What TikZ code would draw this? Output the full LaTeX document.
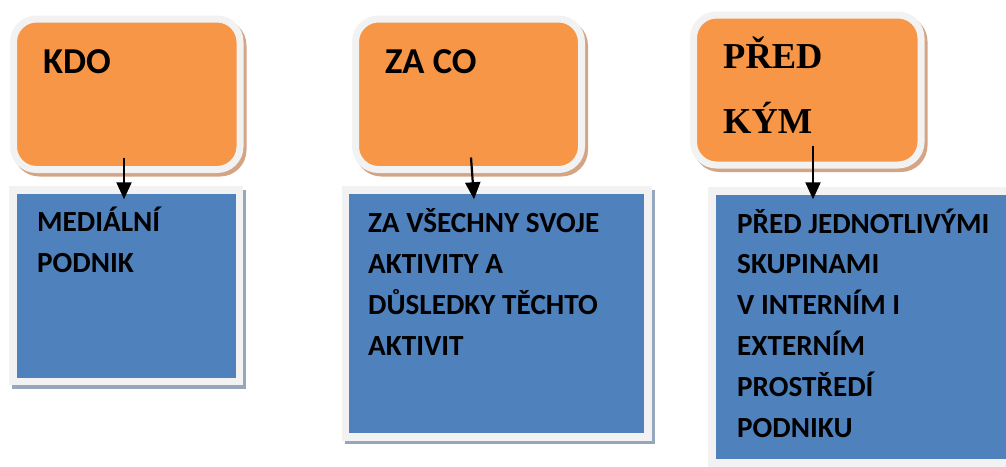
\documentclass[tikz,border=0pt]{standalone}
\usepackage{fontspec}
\setmainfont{Carlito}
\newfontfamily\headserif{Liberation Serif}
\usetikzlibrary{arrows.meta}
\definecolor{boxorange}{HTML}{F79646}
\definecolor{boxblue}{HTML}{4F81BD}
\definecolor{rimgray}{HTML}{F2F2F2}
\definecolor{shadowtan}{HTML}{D4A585}
\definecolor{shadowblue}{HTML}{97A7BB}
\begin{document}
\begin{tikzpicture}[x=1pt,y=-1pt,
  orangebox/.style={draw=rimgray, line width=7pt, fill=boxorange,
    rounded corners=23pt, inner sep=0pt,
    preaction={draw=shadowtan, fill=shadowtan, line width=7pt,
      transform canvas={shift={(3pt,-3.5pt)}}}},
  bluebox/.style={draw=rimgray, line width=7.5pt, fill=boxblue, inner sep=0pt,
    preaction={draw=shadowblue, fill=shadowblue, line width=7.5pt,
      transform canvas={shift={(3pt,-3.5pt)}}}},
  headtext/.style={anchor=base west, inner sep=0pt, font=\bfseries\fontsize{36.5}{40}\selectfont},
  serifhead/.style={anchor=base west, inner sep=0pt, align=left,
    font=\headserif\bfseries\fontsize{36.5}{65}\selectfont},
  bodytext/.style={anchor=base west, inner sep=0pt, align=left,
    font=\bfseries\fontsize{29.2}{40.8}\selectfont},
  arrowline/.style={line width=2.2pt, -{Triangle[width=15pt,length=17pt]}}]
\clip (0,0) rectangle (1006,466);

% upper question boxes
\node[orangebox, minimum width=226.5pt, minimum height=150.5pt] (o1) at (126.75,94.25) {};
\node[orangebox, minimum width=226pt, minimum height=150.5pt] (o2) at (468.5,94.25) {};
\node[orangebox, minimum width=227.5pt, minimum height=150pt] (o3) at (807.25,90) {};

% lower answer boxes
\node[bluebox, minimum width=226.5pt, minimum height=191.5pt] (b1) at (126.25,285.75) {};
\node[bluebox, minimum width=302.5pt, minimum height=247pt] (b2) at (496.75,313.5) {};
\node[bluebox, minimum width=318pt, minimum height=272pt] (b3) at (871,327) {};

% captions (multi-line nodes sit on the baseline of their last line)
\node[headtext] (t1) at (43,73) {KDO};
\node[headtext] (t2) at (385,73) {ZA CO};
\node[serifhead] (t3) at (723,133) {PŘED\\KÝM};
\node[bodytext] (t4) at (37,272) {MEDIÁLNÍ\\PODNIK};
\node[bodytext] (t5) at (368,355) {ZA VŠECHNY SVOJE\\AKTIVITY A\\DŮSLEDKY TĚCHTO\\AKTIVIT};
\node[bodytext] (t6) at (737,437) {PŘED JEDNOTLIVÝMI\\SKUPINAMI\\V INTERNÍM I\\EXTERNÍM\\PROSTŘEDÍ\\PODNIKU};

% connectors
\draw[arrowline] ([shift={(-2.75pt,15.5pt)}]o1.south) -- ([shift={(-2.25pt,-13pt)}]b1.north);
\draw[arrowline] ([shift={(2.5pt,15.5pt)}]o2.south) -- ([shift={(-22.75pt,-13pt)}]b2.north);
\draw[arrowline] ([shift={(5.75pt,23pt)}]o3.south) -- ([shift={(-58pt,-12pt)}]b3.north);
\end{tikzpicture}
\end{document}
